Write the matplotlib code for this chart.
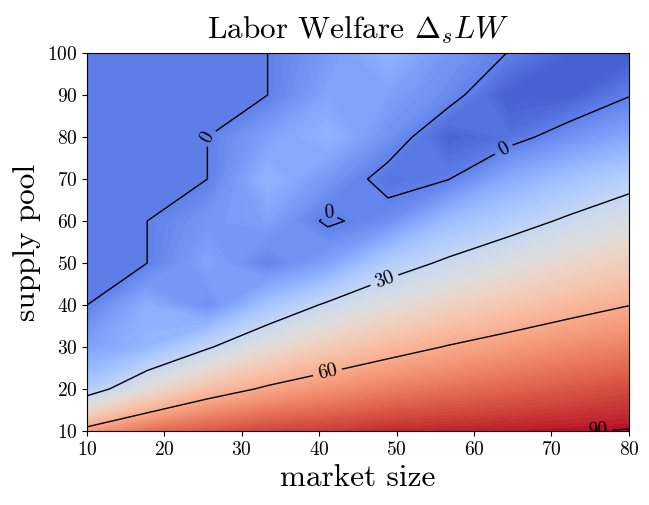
import numpy as np
import matplotlib
matplotlib.use("Agg")
import matplotlib.pyplot as plt

plt.rcParams['font.family'] = 'serif'
plt.rcParams['font.serif'] = ['cmr10', 'DejaVu Serif']
plt.rcParams['mathtext.fontset'] = 'cm'
plt.rcParams['axes.formatter.use_mathtext'] = True

# grid: market size (x) and supply pool (y)
market_size = np.linspace(10, 80, 10)
supply_pool = np.arange(10, 101, 10)

# labor welfare change, one row per supply pool value
welfare_y10 = [64, 74.5, 79.5, 83, 84.6, 87.2, 88.2, 89, 89.7, 90.4]
welfare_y20 = [23.5, 41, 54, 61.7, 67, 71.3, 74.5, 77, 79.5, 82]
welfare_y30 = [9, 16, 28.8, 41, 49.4, 55.6, 60.6, 64.6, 68.1, 71]
welfare_y40 = [0, 13, 4, 20.3, 31.8, 39.9, 46.3, 51.4, 56, 59.8]
welfare_y50 = [0, 0, 10, 1, 9.2, 24.2, 32, 38.2, 43.8, 48.5]
welfare_y60 = [0, 0, 6, 9.2, -1.5, 3.9, 17.7, 25.1, 31.7, 37.3]
welfare_y70 = [0, 0, 0, 15, 6.2, -3.2, -0.3, 11.9, 19.6, 26]
welfare_y80 = [0, 0, 0, 9, 15, 4.7, -7, -3.5, 4.5, 11]
welfare_y90 = [0, 0, 0, 0, 10, 9, 3, -8, -8, -0.5]
welfare_y100 = [0, 0, 0, 0, 7, 15, 6, -0.2, -7, -9]

Z = np.array([welfare_y10, welfare_y20, welfare_y30, welfare_y40, welfare_y50,
              welfare_y60, welfare_y70, welfare_y80, welfare_y90, welfare_y100])
X, Y = np.meshgrid(market_size, supply_pool)

line_levels = [0, 30, 60, 90]
# where the contour labels sit
label_spots = [(25.6, 80), (64, 76.5), (41.2, 61.9), (48.5, 45.5), (41, 24.5), (76, 10)]

fig = plt.figure(figsize=(6.49, 5.05), dpi=100)
ax = fig.add_axes([0.134, 0.1465, 0.835, 0.7485])

ax.contourf(X, Y, Z, levels=100, cmap='coolwarm', vmin=-12.5, vmax=91)
cs = ax.contour(X, Y, Z, levels=line_levels, colors='k', linewidths=1)
ax.clabel(cs, inline=True, fontsize=14, fmt='%d', manual=label_spots)

ax.set_xticks(np.arange(10, 81, 10))
ax.set_yticks(np.arange(10, 101, 10))
ax.tick_params(labelsize=14)
ax.set_xlabel('market size', fontsize=22.5)
ax.set_ylabel('supply pool', fontsize=22.5)
ax.set_title(r'Labor Welfare $\Delta_s LW$', fontsize=22.5, pad=10)

fig.savefig('out.png', dpi=100)
